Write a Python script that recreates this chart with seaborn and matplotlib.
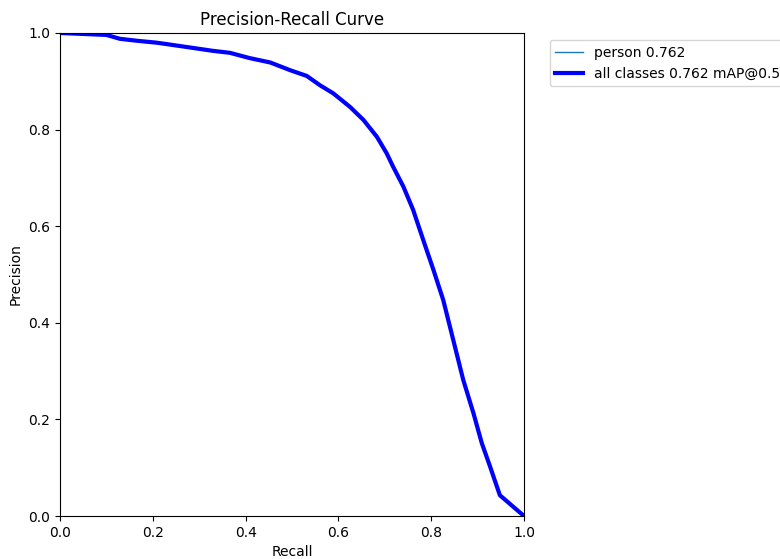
import matplotlib
matplotlib.use("Agg")
import matplotlib.pyplot as plt
import seaborn as sns
import pandas as pd

recall = [0.0, 0.05, 0.10, 0.129, 0.165, 0.208, 0.230, 0.280, 0.330, 0.366,
          0.409, 0.453, 0.496, 0.532, 0.560, 0.589, 0.625, 0.654, 0.683, 0.704,
          0.718, 0.740, 0.761, 0.783, 0.805, 0.826, 0.844, 0.869, 0.891, 0.909,
          0.927, 0.948, 1.0]
precision = [1.0, 0.998, 0.996, 0.988, 0.984, 0.980, 0.977, 0.970, 0.963, 0.959,
             0.948, 0.939, 0.923, 0.911, 0.892, 0.875, 0.847, 0.820, 0.785, 0.751,
             0.723, 0.682, 0.634, 0.571, 0.509, 0.447, 0.378, 0.282, 0.213, 0.151,
             0.102, 0.043, 0.0]
class_label = "person 0.762"
all_label = "all classes 0.762 mAP@0.5"

df = pd.DataFrame({"Recall": recall, "Precision": precision})

fig = plt.figure(figsize=(7.8, 5.59), dpi=100)
ax = fig.add_axes([60 / 780, 1 - 516 / 559, 464 / 780, 483 / 559])

sns.lineplot(data=df, x="Recall", y="Precision", ax=ax, color="#1f77b4",
             linewidth=1, label=class_label, estimator=None, sort=False)
sns.lineplot(data=df, x="Recall", y="Precision", ax=ax, color="blue",
             linewidth=3, label=all_label, estimator=None, sort=False)

ax.set_xlim(0, 1)
ax.set_ylim(0, 1)
ax.set_xlabel("Recall")
ax.set_ylabel("Precision")
ax.set_title("Precision-Recall Curve")
ax.legend(bbox_to_anchor=(1.04, 1), loc="upper left")

fig.savefig("out.png", dpi=100)
